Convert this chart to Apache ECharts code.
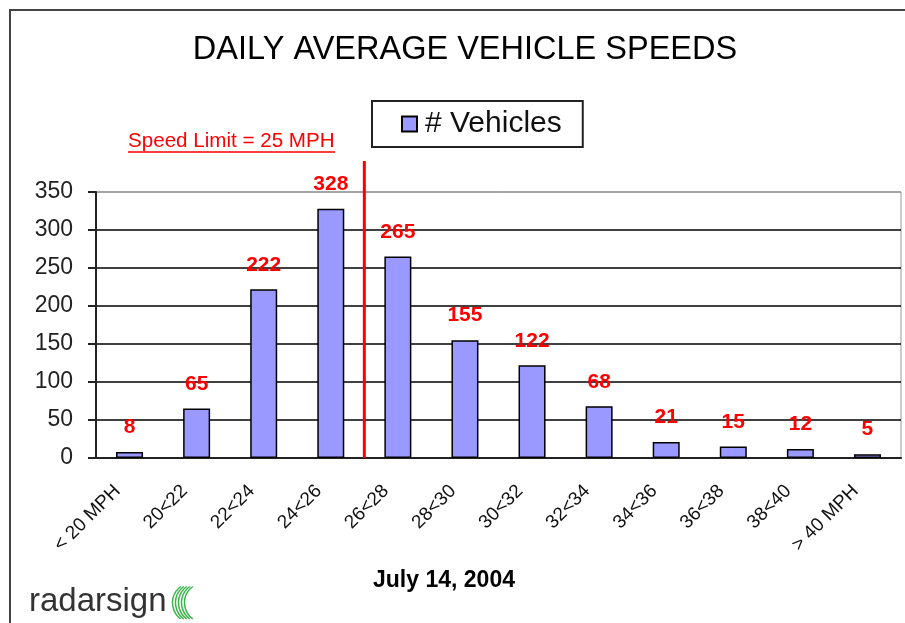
<!DOCTYPE html>
<html>
<head>
<meta charset="utf-8">
<script src="https://cdn.jsdelivr.net/npm/echarts@6/dist/echarts.min.js"></script>
<style>
  html, body { margin: 0; padding: 0; background: #fff; }
  #chart { width: 905px; height: 623px; }
</style>
</head>
<body>
<div id="chart"></div>
<script>
var speedBins = ['< 20 MPH', '20<22', '22<24', '24<26', '26<28', '28<30',
                 '30<32', '32<34', '34<36', '36<38', '38<40', '> 40 MPH'];
var vehicleCounts = [8, 65, 222, 328, 265, 155, 122, 68, 21, 15, 12, 5];
var yTicks = [0, 50, 100, 150, 200, 250, 300, 350];
// speed limit sits on the boundary between these two bins
var limitBefore = '24<26';
var limitAfter = '26<28';

var chart = echarts.init(document.getElementById('chart'));

var font = '"Liberation Sans", Arial, sans-serif';

var option = {
    animation: false,
    textStyle: { fontFamily: font },
    title: {
        text: 'DAILY AVERAGE VEHICLE SPEEDS',
        left: 465,
        top: 34,
        textAlign: 'center',
        padding: 0,
        textStyle: { fontSize: 32.5, fontWeight: 'normal', color: '#000', fontFamily: font }
    },
    legend: {
        left: 372,
        top: 101,
        icon: 'rect',
        itemWidth: 15,
        itemHeight: 15,
        itemGap: 0,
        padding: [8, 21, 8, 29],
        borderColor: '#222',
        borderWidth: 2,
        textStyle: { fontSize: 30, color: '#111', fontFamily: font, padding: [0, 0, 0, 3] }
    },
    grid: {
        left: 96,
        right: 4,
        top: 192,
        bottom: 165,
        show: true,
        borderColor: '#999',
        borderWidth: 1
    },
    xAxis: {
        type: 'category',
        data: speedBins,
        axisLine: { lineStyle: { color: '#222', width: 2 } },
        axisTick: { interval: 0, length: 7, lineStyle: { color: '#222', width: 2 } },
        axisLabel: {
            interval: 0, rotate: 45, fontSize: 19, color: '#111', margin: 18,
            padding: [0, 17, 0, 0]
        }
    },
    yAxis: {
        type: 'value',
        min: yTicks[0],
        max: yTicks[yTicks.length - 1],
        interval: 50,
        axisLine: { show: true, lineStyle: { color: '#222', width: 2 } },
        axisTick: { show: true, length: 8, lineStyle: { color: '#222', width: 2 } },
        axisLabel: { fontSize: 23, color: '#222', margin: 23 },
        splitLine: {
            lineStyle: {
                color: ['#000', '#000', '#000', '#000', '#000', '#000', '#000', '#999'],
                width: 1.5
            }
        }
    },
    series: [{
        name: '# Vehicles',
        type: 'bar',
        data: vehicleCounts,
        barWidth: 27,
        itemStyle: { color: '#9999ff', borderColor: '#000', borderWidth: 1.5 },
        label: {
            show: true,
            position: 'top',
            distance: 14,
            color: '#ff0000',
            fontWeight: 'bold',
            fontSize: 21,
            fontFamily: font
        }
    }]
};

chart.setOption(option);

// red speed limit line placed through the axis scale
var xa = chart.convertToPixel({ xAxisIndex: 0 }, limitBefore);
var xb = chart.convertToPixel({ xAxisIndex: 0 }, limitAfter);
var limitX = (xa + xb) / 2;
var yZero = chart.convertToPixel({ yAxisIndex: 0 }, 0);
var yTop = chart.convertToPixel({ yAxisIndex: 0 }, 350);

chart.setOption({
    graphic: [
        {
            type: 'rect',
            shape: { x: 10, y: 10, width: 1000, height: 1000 },
            style: { fill: 'none', stroke: '#444', lineWidth: 2 },
            silent: true
        },
        {
            type: 'line',
            shape: { x1: limitX, y1: yTop - 31, x2: limitX, y2: yZero },
            style: { stroke: '#ff0000', lineWidth: 3 },
            z: 10
        },
        {
            type: 'text',
            left: 128,
            top: 131,
            style: { text: 'Speed Limit = 25 MPH', fill: '#ff0000', font: '20.6px ' + font }
        },
        {
            type: 'line',
            shape: { x1: 128, y1: 152, x2: 335, y2: 152 },
            style: { stroke: '#ff0000', lineWidth: 1.5 }
        },
        {
            type: 'text',
            x: 444,
            y: 581,
            style: {
                text: 'July 14, 2004', fill: '#000', font: 'bold 23px ' + font,
                align: 'center', verticalAlign: 'middle'
            }
        },
        {
            type: 'text',
            left: 29,
            top: 585,
            style: { text: 'radarsign', fill: '#333', font: '33px ' + font }
        },
        {
            type: 'group',
            left: 170,
            top: 584,
            children: [0, 1, 2, 3, 4].map(function (i) {
                return {
                    type: 'arc',
                    shape: { cx: 24 + i * 3, cy: 19, r: 20, startAngle: Math.PI * 0.7, endAngle: Math.PI * 1.3 },
                    style: { stroke: '#3cb44b', lineWidth: 1.5, fill: 'none' }
                };
            })
        }
    ]
});

window.onresize = chart.resize;
</script>
</body>
</html>
